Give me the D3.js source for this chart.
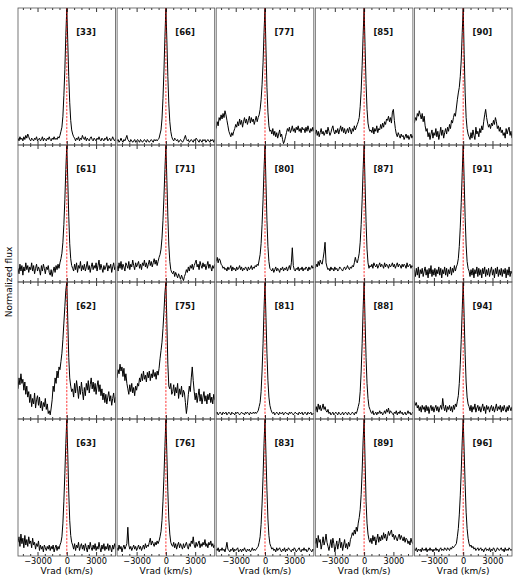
<!DOCTYPE html>
<html>
<head>
<meta charset="utf-8">
<script src="https://cdn.jsdelivr.net/npm/d3@7"></script>
<style>
  body { margin: 0; background: #fff; }
  svg { display: block; font-family: "DejaVu Sans", sans-serif; }
</style>
</head>
<body>
<div id="elements"></div>
<script>
// velocity sampling (km/s)
var velocity = [-5000,-4900,-4800,-4700,-4600,-4500,-4400,-4300,-4200,-4100,-4000,
    -3900,-3800,-3700,-3600,-3500,-3400,-3300,-3200,-3100,-3000,-2900,
    -2800,-2700,-2600,-2500,-2400,-2300,-2200,-2100,-2000,-1900,-1800,
    -1700,-1600,-1500,-1400,-1300,-1200,-1100,-1000,-900,-800,-700,
    -600,-500,-400,-300,-200,-100,0,100,200,300,400,500,600,
    700,800,900,1000,1100,1200,1300,1400,1500,1600,1700,
    1800,1900,2000,2100,2200,2300,2400,2500,2600,2700,2800,
    2900,3000,3100,3200,3300,3400,3500,3600,3700,3800,3900,
    4000,4100,4200,4300,4400,4500,4600,4700,4800,4900,5000];

// flux, in % of the line peak
var flux33 = [5,3,6,4,5,3,6,4,7,5,8, 6,4,3,5,4,3,5,4,6,3,4, 5,3,4,6,3,5,4,3,5,4,6, 4,3,5,4,6,4,5,4,6,5,7,
    10,13,21,36,55,80,100,75,50,31,18,11,8,
    6,5,3,5,4,6,3,5,4,7,5, 4,6,3,5,4,3,5,6,4,3,5, 4,3,5,4,6,4,3,5,4,3,5, 4,6,3,4,5,3,4,6,4,3,5];
var flux66 = [3,4,2,3,5,3,2,4,3,5,7, 4,3,2,4,3,2,3,4,2,3,4, 3,2,4,3,2,3,4,3,2,4,3, 2,3,4,3,2,4,3,4,3,4,5,
    8,11,19,34,54,79,100,76,50,30,17,10,6,
    4,3,5,4,3,4,2,3,4,3,2, 3,5,7,4,3,4,2,3,4,3,2, 4,3,5,4,3,2,4,3,2,4,3, 4,2,3,4,3,2,4,3,4,2,4];
var flux77 = [12,17,14,20,18,22,19,23,20,25,22, 18,14,10,8,6,9,7,10,12,15,13, 17,14,19,15,18,13,17,20,16,19,15, 18,21,16,20,17,19,15,18,21,17,20,
    22,26,33,44,60,82,100,70,42,24,14,10,11,
    8,12,7,10,6,9,5,8,11,6,8, 4,1,3,6,9,12,10,13,9,11,14, 10,12,9,13,11,14,10,12,9,13,11, 12,9,13,10,14,11,9,12,10,13,10];
var flux85 = [8,11,7,10,6,9,12,8,10,7,9, 11,8,13,10,7,9,12,14,10,8,11, 9,12,8,11,14,10,13,9,12,8,10, 12,9,13,11,8,12,10,14,11,13,15,
    17,20,28,40,58,80,100,72,45,26,16,12,10,
    11,9,13,8,12,10,14,9,12,11,15, 12,16,13,17,15,19,18,21,17,20,16, 24,26,18,12,8,6,9,7,5,8,6, 7,4,6,8,5,7,4,6,8,5,7];
var flux90 = [16,20,18,23,21,25,22,19,23,17,21, 14,10,12,6,9,4,8,11,5,9,7, 12,6,10,4,8,13,7,11,5,9,12, 8,13,10,15,12,18,16,20,23,21,27,
    33,38,42,50,62,82,100,66,38,20,12,8,6,
    4,9,5,11,7,4,13,8,10,6,12, 9,14,11,17,22,26,20,16,13,15,12, 16,14,18,15,20,17,12,14,10,13,9, 11,7,9,5,12,8,11,13,7,10,5];

var flux61 = [10,6,13,8,12,5,11,8,14,9,12, 7,11,9,14,8,12,6,10,13,8,11, 9,5,12,8,13,10,6,11,9,12,7, 5,9,4,8,11,7,12,9,13,10,14,
    17,21,29,42,60,82,100,74,48,28,17,12,10,
    8,13,9,14,7,12,10,15,8,12,9, 13,8,11,15,9,12,7,11,14,9,12, 10,14,8,12,16,9,13,10,7,12,9, 11,14,8,12,10,13,7,11,14,9,11];
var flux71 = [12,8,14,10,15,9,13,11,8,14,12, 10,15,9,13,11,16,12,9,14,11,13, 15,10,13,9,14,12,16,11,14,10,13, 16,12,15,11,14,17,13,16,12,15,18,
    20,24,32,45,62,82,100,74,48,27,15,9,7,
    6,8,4,7,5,3,6,4,2,5,3, 1,4,6,9,7,11,8,12,10,13,9, 12,14,16,11,13,9,15,12,10,14,11, 13,9,12,15,10,13,11,8,12,10,13];
var flux80 = [15,18,14,17,16,13,12,10,11,9,10, 8,11,9,10,12,8,11,9,10,8,11, 9,10,12,9,11,8,10,9,11,10,8, 11,9,10,12,9,11,10,12,11,13,12,
    16,20,28,42,60,82,100,72,45,26,15,10,9,
    8,10,7,9,11,8,10,9,7,10,9, 11,8,10,9,11,8,10,12,9,14,25, 12,9,8,10,9,11,8,10,9,11,8, 10,9,11,10,8,11,9,10,12,10,11];
var flux87 = [10,13,11,15,12,16,14,13,17,22,29, 14,11,9,10,8,11,9,10,8,11,9, 10,8,9,11,10,9,8,10,11,9,10, 12,10,9,11,10,12,11,14,18,15,14,
    17,21,29,42,60,82,100,72,44,24,14,10,12,
    11,13,10,14,12,11,13,10,12,14,11, 13,12,10,14,11,13,12,10,13,11,12, 14,11,13,10,12,14,11,13,12,10,13, 11,13,12,10,14,11,12,13,10,12,11];
var flux91 = [9,4,10,5,11,3,9,6,10,4,8, 11,5,9,3,10,6,12,4,9,5,10, 4,9,6,11,5,10,3,9,6,11,5, 10,4,9,6,11,5,10,7,12,8,11,
    13,17,26,40,58,80,100,74,47,27,15,10,8,
    4,9,5,10,3,9,6,11,4,10,5, 9,3,10,6,11,4,9,5,10,4,8, 11,5,9,3,10,6,11,4,9,5,10, 4,9,6,10,3,9,5,11,4,8,6];

var flux62 = [22,30,25,33,26,29,21,27,18,24,16, 20,12,18,9,15,11,19,8,14,17,10, 16,8,13,6,12,9,15,7,11,4,6, 3,8,14,24,20,30,26,35,30,38,36,
    42,48,58,70,82,94,100,72,45,30,24,20,22,
    16,26,19,28,22,15,24,18,27,20,14, 23,17,26,21,28,19,25,30,22,27,20, 26,18,24,28,20,25,17,22,14,19,12, 18,11,16,20,13,17,10,15,19,12,16];
var flux75 = [30,36,33,40,35,38,31,37,28,33,26, 22,18,25,20,26,19,23,17,24,21,26, 24,30,27,33,28,35,29,32,27,34,30, 35,28,33,30,36,31,34,29,35,32,37,
    44,50,56,66,78,92,100,70,40,24,22,26,18,
    20,25,17,23,19,26,15,22,18,24,16, 21,19,12,4,10,18,24,20,30,38,28, 20,14,19,12,17,22,13,18,11,16,20, 13,17,11,18,14,19,12,16,11,18,14];
var flux81 = [4,5,3,4,5,4,3,5,4,4,5, 3,4,5,4,3,5,4,4,3,5,4, 5,4,3,4,5,4,4,3,5,4,5, 4,3,5,4,4,5,4,5,4,5,6,
    9,12,20,35,55,80,100,74,48,28,16,10,7,
    5,4,5,3,4,5,4,3,5,4,4, 5,3,4,5,4,4,3,5,4,5,4, 3,4,5,4,4,3,5,4,4,5,3, 4,5,4,3,5,4,4,5,3,4,4];
var flux88 = [6,9,5,11,7,10,6,8,11,7,9, 6,5,7,4,5,3,4,5,3,4,5, 4,3,5,4,3,4,5,3,4,5,4, 3,5,4,3,4,5,4,3,5,4,6,
    9,12,20,35,55,80,100,72,45,26,15,9,7,
    5,4,6,3,4,5,3,5,4,6,4, 5,3,4,6,4,7,5,8,4,6,5, 4,3,5,4,6,3,5,4,6,4,5, 3,4,5,3,4,6,4,5,3,4,5];
var flux94 = [13,10,12,8,10,6,9,5,10,7,9, 5,10,6,9,4,8,10,6,9,5,8, 10,6,9,5,8,10,7,15,9,6,10, 5,9,7,10,6,9,5,10,7,11,9,
    13,17,26,40,58,80,100,74,47,27,16,11,9,
    6,10,5,9,7,11,5,8,10,6,9, 5,8,11,6,9,4,10,7,9,5,8, 10,6,9,5,8,11,6,9,7,10,5, 9,6,10,7,5,9,6,10,8,6,9];

var flux63 = [10,14,7,16,9,13,6,15,8,12,7, 14,9,11,6,13,8,10,5,9,7,11, 4,8,5,7,3,8,6,4,7,5,8, 4,7,5,8,3,6,8,4,7,5,8,
    10,14,24,40,60,82,100,74,46,26,15,10,8,
    5,9,4,8,6,10,4,7,9,5,8, 4,9,6,3,8,5,10,6,4,8,5, 9,4,7,5,10,6,3,8,5,9,4, 7,5,9,4,8,6,3,8,5,9,6];
var flux76 = [6,4,8,5,7,3,6,8,5,7,9, 21,8,5,7,4,6,8,5,7,4,6, 8,5,7,4,6,8,5,9,6,8,7, 10,13,8,11,9,7,10,8,11,9,11,
    14,18,26,40,58,80,100,74,47,27,16,10,8,
    7,10,6,9,5,8,10,6,9,7,5, 9,6,8,10,7,5,9,7,11,9,14, 8,6,10,7,9,11,6,9,7,10,8, 12,7,9,6,10,8,11,7,9,6,8];
var flux83 = [5,4,6,3,5,4,6,4,5,3,6, 10,5,4,3,5,4,6,3,5,4,5, 6,3,4,5,3,5,4,6,4,3,5, 4,5,3,4,6,4,5,4,5,6,7,
    10,14,23,38,58,82,100,74,48,27,15,9,7,
    5,6,4,5,3,6,4,5,6,4,3, 5,4,6,3,5,4,6,5,4,3,5, 4,6,5,3,4,5,6,4,3,5,4, 6,4,5,3,4,6,5,4,3,5,4];
var flux89 = [9,13,6,15,10,12,5,9,14,8,11, 16,10,7,4,8,12,6,13,9,3,7, 11,5,9,13,6,10,4,8,12,6,9, 5,10,7,12,14,17,15,19,16,21,18,
    24,28,34,45,62,84,100,70,40,24,16,12,10,
    13,9,15,11,14,8,12,16,10,14,11, 15,12,17,13,16,11,14,18,15,17,19, 14,16,12,15,13,11,14,16,12,15,13, 11,14,10,13,12,9,11,8,13,10,9];
var flux96 = [5,4,6,3,5,4,5,3,6,4,5, 4,6,3,5,4,6,4,5,3,5,4, 6,4,5,3,5,6,4,5,4,6,5, 4,6,5,4,6,5,7,6,7,8,9,
    14,20,30,44,62,84,100,76,52,32,20,13,9,
    7,8,6,7,5,6,4,5,6,4,5, 6,4,5,3,5,6,4,5,4,6,3, 5,4,6,5,3,4,6,5,4,5,6, 4,5,3,6,4,5,4,6,5,4,5];

var labels = ["[33]","[66]","[77]","[85]","[90]",
              "[61]","[71]","[80]","[87]","[91]",
              "[62]","[75]","[81]","[88]","[94]",
              "[63]","[76]","[83]","[89]","[96]"];
var spectra = [flux33, flux66, flux77, flux85, flux90,
               flux61, flux71, flux80, flux87, flux91,
               flux62, flux75, flux81, flux88, flux94,
               flux63, flux76, flux83, flux89, flux96];

var majorTicks = [-3000, 0, 3000];
var minorTicks = [-4500, -3750, -2250, -1500, -750, 750, 1500, 2250, 3750, 4500];

var width = 520, height = 585;
var nCols = 5, nRows = 4;
var marginLeft = 18, marginTop = 8, panelW = 97.6, panelH = 137, gap = 1.5;

var svg = d3.select("#elements").append("svg")
    .attr("width", width)
    .attr("height", height);

svg.append("clipPath")
    .attr("id", "panel-clip")
  .append("rect")
    .attr("width", panelW)
    .attr("height", panelH);

var x = d3.scaleLinear().domain([-5000, 5000]).range([0, panelW]);
var y = d3.scaleLinear().domain([0, 100]).range([panelH, 0]);

var line = d3.line()
    .x(function(d, i) { return x(velocity[i]); })
    .y(function(d) { return y(d); });

spectra.forEach(function(flux, k) {
    var col = k % nCols, row = Math.floor(k / nCols);
    var g = svg.append("g")
        .attr("transform", "translate(" + (marginLeft + col * (panelW + gap)) + "," + (marginTop + row * panelH) + ")");

    g.append("path")
        .datum(flux)
        .attr("clip-path", "url(#panel-clip)")
        .attr("fill", "none")
        .attr("stroke", "#000")
        .attr("stroke-width", 1)
        .attr("stroke-linejoin", "round")
        .attr("d", line);

    // zero velocity marker
    g.append("line")
        .attr("x1", x(0)).attr("x2", x(0))
        .attr("y1", 0).attr("y2", panelH)
        .attr("stroke", "red")
        .attr("stroke-width", 0.8)
        .attr("stroke-dasharray", "2.2,1.4");

    g.append("text")
        .attr("x", 68)
        .attr("y", 27)
        .attr("text-anchor", "middle")
        .attr("font-size", "8.5px")
        .attr("font-weight", "bold")
        .attr("fill", "#111")
        .text(labels[k]);

    // ticks, pointing inwards on top and bottom
    var fmt = row === nRows - 1 ? d3.format("d") : function() { return ""; };
    var bottom = g.append("g")
        .attr("transform", "translate(0," + panelH + ")")
        .call(d3.axisBottom(x).tickValues(majorTicks).tickSize(-4).tickPadding(2.5).tickFormat(fmt));
    bottom.append("g")
        .call(d3.axisBottom(x).tickValues(minorTicks).tickSize(-2).tickFormat(""));
    var topAxis = g.append("g")
        .call(d3.axisTop(x).tickValues(majorTicks).tickSize(-4).tickFormat(""));
    topAxis.append("g")
        .call(d3.axisTop(x).tickValues(minorTicks).tickSize(-2).tickFormat(""));
    g.selectAll(".domain").remove();
    g.selectAll(".tick line").attr("stroke", "#000").attr("stroke-width", 0.8);
    g.selectAll(".tick text")
        .attr("font-family", "DejaVu Sans, sans-serif")
        .attr("font-size", "8.2px")
        .attr("fill", "#000");

    g.append("rect")
        .attr("width", panelW)
        .attr("height", panelH)
        .attr("fill", "none")
        .attr("stroke", "#555")
        .attr("stroke-width", 0.8);

    if (row === nRows - 1) {
        g.append("text")
            .attr("x", panelW / 2)
            .attr("y", panelH + 18)
            .attr("text-anchor", "middle")
            .attr("font-size", "9px")
            .text("Vrad (km/s)");
    }
});

svg.append("text")
    .attr("transform", "translate(12," + (marginTop + nRows * panelH / 2) + ") rotate(-90)")
    .attr("text-anchor", "middle")
    .attr("font-size", "9px")
    .text("Normalized flux");
</script>
</body>
</html>
